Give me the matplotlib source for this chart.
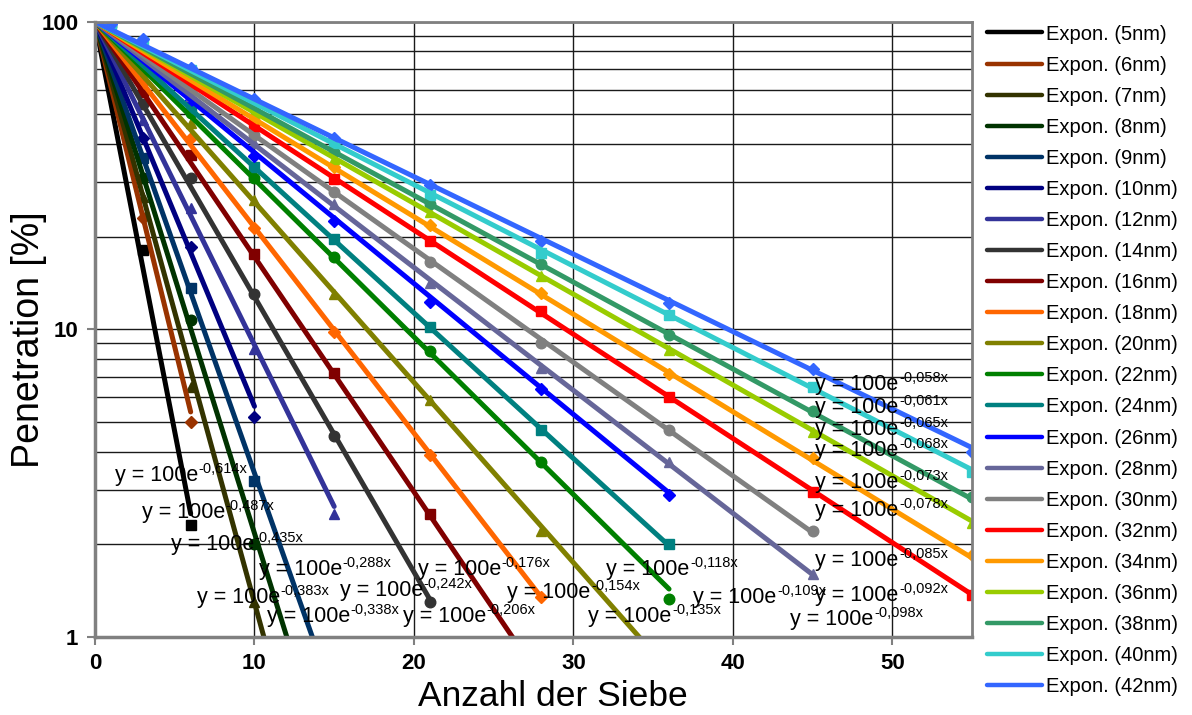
import matplotlib

matplotlib.use("Agg")
import numpy as np
import matplotlib.pyplot as plt
from matplotlib.lines import Line2D
from matplotlib.ticker import FixedLocator, NullFormatter

plt.rcParams["font.family"] = ["Liberation Sans", "DejaVu Sans"]

nan = np.nan

# number of sieves where penetration was measured
sieves = [0, 1, 3, 6, 10, 15, 21, 28, 36, 45, 55]

sizes = [5, 6, 7, 8, 9, 10, 12, 14, 16, 18, 20, 22, 24, 26, 28, 30, 32, 34, 36, 38, 40, 42]

# measured penetration [%] per particle size (points below 1 % are off the chart)
p05 = [100, nan, 18.1, 2.3]
p06 = [100, nan, 23, 5.0]
p07 = [100, nan, 27, 6.5, 1.3]
p08 = [100, nan, 31, 10.7, 2.0]
p09 = [100, nan, 36, 13.6, 3.2]
p10 = [100, nan, 42, 18.5, 5.2]
p12 = [100, nan, 48, 24.8, 8.6, 2.5]
p14 = [100, nan, 54, 31.0, 13.0, 4.5, 1.3]
p16 = [100, nan, 59, 36.9, 17.6, 7.2, 2.5]
p18 = [100, nan, 63, 41.8, 21.3, 9.8, 3.9, 1.35]
p20 = [100, nan, 67, 46.8, 26.3, 13.0, 5.9, 2.2]
p22 = [100, nan, 70, 50.5, 31.0, 17.2, 8.5, 3.7, 1.33]
p24 = [100, nan, 72, 52.5, 33.6, 19.7, 10.2, 4.7, 2.0]
p26 = [100, nan, 74, 55.5, 36.6, 22.5, 12.3, 6.4, 2.9]
p28 = [100, nan, 76, 57.5, 40.2, 25.5, 14.1, 7.5, 3.7, 1.6]
p30 = [100, nan, 77, 60, 42.8, 28.0, 16.6, 9.0, 4.7, 2.2]
p32 = [100, nan, 79, 62.5, 45.7, 30.7, 19.3, 11.5, 6.0, 2.96, 1.37]
p34 = [100, nan, 80, 64.5, 48, 33.8, 21.8, 13.1, 7.15, 3.8, 1.84]
p36 = [100, 97, 82, 66.5, 50.5, 35.8, 24.0, 14.9, 8.56, 4.64, 2.34]
p38 = [100, 97, 82, 68, 52.5, 37.7, 25.5, 16.3, 9.6, 5.4, 2.85]
p40 = [100, 98, 86, 69.5, 54, 40.3, 27.3, 17.7, 11.1, 6.5, 3.44]
p42 = [100, 98, 88, 70.5, 56, 41.8, 29.4, 19.4, 12.2, 7.4, 4.0]

penetration = [p05, p06, p07, p08, p09, p10, p12, p14, p16, p18, p20,
               p22, p24, p26, p28, p30, p32, p34, p36, p38, p40, p42]

# exponential trendline exponents shown on the chart (y = 100 e^(-k x))
rates = [0.614, 0.487, 0.435, 0.383, 0.338, 0.288, 0.242, 0.206, 0.176, 0.154, 0.135,
         0.118, 0.109, 0.098, 0.092, 0.085, 0.078, 0.073, 0.068, 0.065, 0.061, 0.058]
rate_text = ["0,614", "0,487", "0,435", "0,383", "0,338", "0,288", "0,242", "0,206",
             "0,176", "0,154", "0,135", "0,118", "0,109", "0,098", "0,092", "0,085",
             "0,078", "0,073", "0,068", "0,065", "0,061", "0,058"]
# last sieve count of each measured series (trendline range)
trend_end = [6, 6, 15, 15, 15, 10, 15, 21, 28, 28, 36,
             36, 36, 36, 45, 45, 55, 55, 55, 55, 55, 55]

colors = ["#000000", "#993300", "#333300", "#003300", "#003366", "#000080", "#333399",
          "#333333", "#800000", "#FF6600", "#808000", "#008000", "#008080", "#0000FF",
          "#666699", "#808080", "#FF0000", "#FF9900", "#99CC00", "#339966", "#33CCCC",
          "#3366FF"]
marker_cycle = ["s", "D", "^", "o"]

# where the equation labels sit (data coords, text baseline)
label_x = [1.25, 2.95, 4.77, 6.40, 10.79, 10.29, 15.37, 19.32, 20.26, 25.85, 30.93,
           32.06, 37.52, 43.60, 45.17, 45.17, 45.17, 45.17, 45.17, 45.17, 45.17, 45.17]
label_y = [3.20, 2.43, 1.91, 1.29, 1.12, 1.59, 1.36, 1.12, 1.59, 1.34, 1.12,
           1.59, 1.29, 1.09, 1.31, 1.70, 2.47, 3.04, 3.87, 4.53, 5.35, 6.34]

W, H = 1192, 715
fig = plt.figure(figsize=(W / 100, H / 100), dpi=100)
ax = fig.add_axes([95 / W, 1 - 636.7 / H, (972 - 95) / W, (636.7 - 21.7) / H])
ax.set_yscale("log")

handles = []
for i, size in enumerate(sizes):
    col = colors[i]
    vals = penetration[i]
    xs = sieves[:len(vals)]
    xt = np.linspace(0, trend_end[i], 200)
    ax.plot(xt, 100 * np.exp(-rates[i] * xt), color=col, lw=3.6,
            solid_capstyle="round", zorder=2.5)
    mk = marker_cycle[i % 4]
    ms = 6.6 if mk == "D" else 7.6
    ax.plot(xs, vals, linestyle="none", marker=mk, ms=ms, color=col,
            markeredgecolor=col, zorder=2.2)
    handles.append(Line2D([], [], color=col, lw=3.2, solid_capstyle="round"))

ax.set_xlim(0, 55)
ax.set_ylim(1, 100)

renderer = fig.canvas.get_renderer()
for i in range(len(sizes)):
    t = ax.text(label_x[i], label_y[i], "y = 100e", fontsize=15.5,
                ha="left", va="baseline", zorder=5, color="black")
    w = t.get_window_extent(renderer).width
    ax.annotate("-" + rate_text[i] + "x", xy=(label_x[i], label_y[i]),
                xytext=(w + 0.5, 8), textcoords="offset pixels", fontsize=10.5,
                ha="left", va="baseline", zorder=5, color="black")

ax.xaxis.set_major_locator(FixedLocator([0, 10, 20, 30, 40, 50]))
ax.yaxis.set_major_locator(FixedLocator([1, 10, 100]))
ax.yaxis.set_minor_locator(FixedLocator([2, 3, 4, 5, 6, 7, 8, 9, 20, 30, 40, 50, 60, 70, 80, 90]))
ax.yaxis.set_minor_formatter(NullFormatter())
ax.set_yticklabels(["1", "10", "100"])
ax.set_xticklabels(["0", "10", "20", "30", "40", "50"])
for lab in ax.get_xticklabels() + ax.get_yticklabels():
    lab.set_fontweight("bold")
    lab.set_fontsize(16)
ax.tick_params(axis="both", which="major", direction="out", length=6, width=1.5,
               color="#808080", pad=6)
ax.tick_params(axis="y", which="minor", length=0)
ax.grid(True, which="major", axis="x", color="#1a1a1a", lw=1.0)
ax.grid(True, which="both", axis="y", color="#1a1a1a", lw=1.0)
ax.set_axisbelow(True)
for side in ["left", "bottom"]:
    ax.spines[side].set_color("#808080")
    ax.spines[side].set_linewidth(2.5)
for side in ["top", "right"]:
    ax.spines[side].set_color("#808080")
    ax.spines[side].set_linewidth(2.0)

fig.text(553 / W, 1 - 696 / H, "Anzahl der Siebe", fontsize=25.5, ha="center", va="center")
fig.text(29 / W, 1 - 340 / H, "Penetration [%]", fontsize=27, ha="center", va="center",
         rotation=90)

fig.legend(handles, [f"Expon. ({s}nm)" for s in sizes], loc="upper left",
           bbox_to_anchor=(987 / W, 1 - 24.5 / H), frameon=False, fontsize=14.5,
           handlelength=2.75, handletextpad=0.2, labelspacing=0.6, borderpad=0,
           borderaxespad=0)

fig.savefig("out.png", dpi=100)
